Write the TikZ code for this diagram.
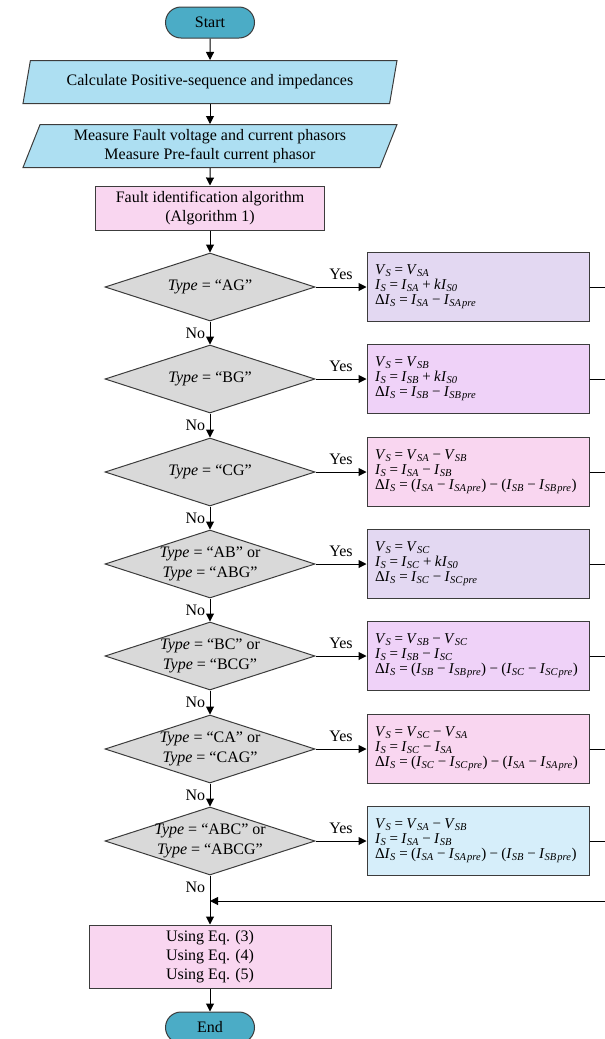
\documentclass[tikz,border=0pt]{standalone}
\usepackage{fontspec}
\setmainfont{Liberation Serif}
\usepackage{xcolor}
\definecolor{fcteal}{RGB}{75,172,198}
\definecolor{fcblue}{RGB}{173,223,242}
\definecolor{fcpink}{RGB}{249,214,240}
\definecolor{fcgray}{RGB}{217,217,217}
\definecolor{fclav}{RGB}{227,216,242}
\definecolor{fclilac}{RGB}{239,210,248}
\definecolor{fcsky}{RGB}{214,238,250}
\definecolor{fcline}{RGB}{60,60,60}
\usetikzlibrary{arrows.meta,positioning,shapes.geometric,shapes.misc}

\newcommand{\fv}[2]{\textit{#1}\textsubscript{\textit{#2}}}
\newcommand{\fpre}[2]{\textit{#1}\textsubscript{\textit{#2\kern0.1em pre}}}
\newcommand{\feq}{\kern0.22em=\kern0.22em}
\newcommand{\fmn}{\kern0.22em−\kern0.22em}
\newcommand{\fpl}{\kern0.22em+\kern0.22em}

\begin{document}
\begin{tikzpicture}[x=1pt, y=-1pt,
  font=\fontsize{16}{19}\selectfont,
  term/.style={rounded rectangle, draw=fcline, fill=fcteal, line width=1pt, minimum width=89pt, minimum height=31pt, inner sep=0pt},
  inbox/.style={trapezium, trapezium left angle=63, trapezium right angle=117, trapezium stretches body, draw=fcline, fill=fcblue, line width=1pt, minimum width=374pt, minimum height=43pt, align=center, inner sep=0pt},
  procbox/.style={rectangle, draw=fcline, fill=fcpink, line width=1pt, align=center},
  decision/.style={diamond, aspect=3.1, draw=fcline, fill=fcgray, line width=1pt, minimum width=210pt, minimum height=68pt, inner sep=-3pt, align=center, font=\fontsize{16}{20}\selectfont},
  eqbox/.style={rectangle, draw=fcline, line width=1pt, text width=206pt, inner xsep=8pt, minimum height=69pt, align=left, font=\fontsize{15}{15}\selectfont},
  flow/.style={draw=black, line width=1pt, -{Triangle[length=8pt, width=8pt]}},
  link/.style={draw=black, line width=1pt}]
  \useasboundingbox (0,0) rectangle (605,1039);

  % Start and inputs
  \node[term] (start) at (210,22.5) {Start};
  \node[inbox] (in1) at (210,82) {Calculate Positive-sequence and impedances};
  \node[inbox] (in2) at (210,146) {Measure Fault voltage and current phasors\\Measure Pre-fault current phasor};
  \node[procbox, minimum width=229pt, minimum height=44pt] (ident) at (210,208) {Fault identification algorithm\\(Algorithm 1)};

  % Decisions
  \node[decision] (d1) at (210,287) {\textit{Type} = “AG”};
  \node[decision] (d2) at (210,379) {\textit{Type} = “BG”};
  \node[decision] (d3) at (210,472) {\textit{Type} = “CG”};
  \node[decision] (d4) at (210,564) {\textit{Type} = “AB” or\\\textit{Type} = “ABG”};
  \node[decision] (d5) at (210,656) {\textit{Type} = “BC” or\\\textit{Type} = “BCG”};
  \node[decision] (d6) at (210,749) {\textit{Type} = “CA” or\\\textit{Type} = “CAG”};
  \node[decision] (d7) at (210,841) {\textit{Type} = “ABC” or\\\textit{Type} = “ABCG”};

  % Quantities for each fault type
  \node[eqbox, fill=fclav] (r1) at (478,287) {\fv{V}{S}\feq\fv{V}{SA}\\\fv{I}{S}\feq\fv{I}{SA}\fpl\textit{k}\fv{I}{S0}\\Δ\fv{I}{S}\feq\fv{I}{SA}\fmn\fpre{I}{SA}};
  \node[eqbox, fill=fclilac] (r2) at (478,379) {\fv{V}{S}\feq\fv{V}{SB}\\\fv{I}{S}\feq\fv{I}{SB}\fpl\textit{k}\fv{I}{S0}\\Δ\fv{I}{S}\feq\fv{I}{SB}\fmn\fpre{I}{SB}};
  \node[eqbox, fill=fcpink] (r3) at (478,472) {\fv{V}{S}\feq\fv{V}{SA}\fmn\fv{V}{SB}\\\fv{I}{S}\feq\fv{I}{SA}\fmn\fv{I}{SB}\\Δ\fv{I}{S}\feq(\fv{I}{SA}\fmn\fpre{I}{SA})\fmn(\fv{I}{SB}\fmn\fpre{I}{SB})};
  \node[eqbox, fill=fclav] (r4) at (478,564) {\fv{V}{S}\feq\fv{V}{SC}\\\fv{I}{S}\feq\fv{I}{SC}\fpl\textit{k}\fv{I}{S0}\\Δ\fv{I}{S}\feq\fv{I}{SC}\fmn\fpre{I}{SC}};
  \node[eqbox, fill=fclilac] (r5) at (478,656) {\fv{V}{S}\feq\fv{V}{SB}\fmn\fv{V}{SC}\\\fv{I}{S}\feq\fv{I}{SB}\fmn\fv{I}{SC}\\Δ\fv{I}{S}\feq(\fv{I}{SB}\fmn\fpre{I}{SB})\fmn(\fv{I}{SC}\fmn\fpre{I}{SC})};
  \node[eqbox, fill=fcpink] (r6) at (478,749) {\fv{V}{S}\feq\fv{V}{SC}\fmn\fv{V}{SA}\\\fv{I}{S}\feq\fv{I}{SC}\fmn\fv{I}{SA}\\Δ\fv{I}{S}\feq(\fv{I}{SC}\fmn\fpre{I}{SC})\fmn(\fv{I}{SA}\fmn\fpre{I}{SA})};
  \node[eqbox, fill=fcsky] (r7) at (478,841) {\fv{V}{S}\feq\fv{V}{SA}\fmn\fv{V}{SB}\\\fv{I}{S}\feq\fv{I}{SA}\fmn\fv{I}{SB}\\Δ\fv{I}{S}\feq(\fv{I}{SA}\fmn\fpre{I}{SA})\fmn(\fv{I}{SB}\fmn\fpre{I}{SB})};

  % Output and end
  \node[procbox, minimum width=242pt, minimum height=63pt] (eqs) at (210,956.5) {Using Eq. (3)\\Using Eq. (4)\\Using Eq. (5)};
  \node[term] (stop) at (210,1027.5) {End};

  % Free ends at the right edge
  \coordinate (x1) at (605,287);
  \coordinate (x2) at (605,379);
  \coordinate (x3) at (605,472);
  \coordinate (x4) at (605,564);
  \coordinate (x5) at (605,656);
  \coordinate (x6) at (605,749);
  \coordinate (x7) at (605,841);
  \coordinate (back) at (605,901);
  \coordinate (join) at (210,901);

  % Main flow
  \draw[flow] (start) -- (in1);
  \draw[flow] (in1) -- (in2);
  \draw[flow] (in2) -- (ident);
  \draw[flow] (ident) -- (d1);
  \draw[flow] (d1) -- node[left=1pt]{No} (d2);
  \draw[flow] (d2) -- node[left=1pt]{No} (d3);
  \draw[flow] (d3) -- node[left=1pt]{No} (d4);
  \draw[flow] (d4) -- node[left=1pt]{No} (d5);
  \draw[flow] (d5) -- node[left=1pt]{No} (d6);
  \draw[flow] (d6) -- node[left=1pt]{No} (d7);
  \draw[flow] (d7) -- node[left=1pt, pos=0.25]{No} (eqs);
  \draw[flow] (eqs) -- (stop);

  % Yes branches
  \draw[flow] (d1) -- node[above=4pt]{Yes} (r1);
  \draw[flow] (d2) -- node[above=4pt]{Yes} (r2);
  \draw[flow] (d3) -- node[above=4pt]{Yes} (r3);
  \draw[flow] (d4) -- node[above=4pt]{Yes} (r4);
  \draw[flow] (d5) -- node[above=4pt]{Yes} (r5);
  \draw[flow] (d6) -- node[above=4pt]{Yes} (r6);
  \draw[flow] (d7) -- node[above=4pt]{Yes} (r7);
  \draw[link] (r1) -- (x1);
  \draw[link] (r2) -- (x2);
  \draw[link] (r3) -- (x3);
  \draw[link] (r4) -- (x4);
  \draw[link] (r5) -- (x5);
  \draw[link] (r6) -- (x6);
  \draw[link] (r7) -- (x7);
  \draw[flow] (back) -- (join);
\end{tikzpicture}
\end{document}
